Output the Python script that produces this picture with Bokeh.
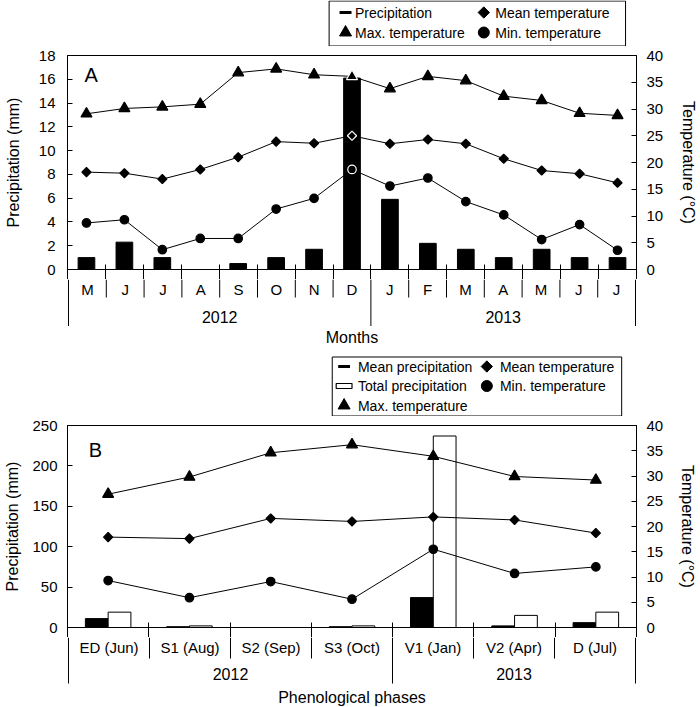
import numpy as np
from bokeh.plotting import figure
from bokeh.models import Range1d, LinearAxis, FixedTicker, Label, ColumnDataSource
from bokeh.layouts import column
from bokeh.embed import file_html
from bokeh.resources import INLINE
from bokeh.core.properties import value, field

FONT = "Liberation Sans"
W = 700

# ---------------- Panel A data (monthly) ----------------
a_months = ["M", "J", "J", "A", "S", "O", "N", "D", "J", "F", "M", "A", "M", "J", "J"]
a_years = ["2012"] * 8 + ["2013"] * 7
a_precip = [1.0, 2.3, 1.0, 0.0, 0.5, 1.0, 1.7, 16.1, 5.9, 2.2, 1.7, 1.0, 1.7, 1.0, 1.0]
a_tmax = [29.1, 30.1, 30.4, 30.9, 36.8, 37.5, 36.4, 36.1, 33.8, 36.1, 35.3, 32.4, 31.6, 29.2, 28.8]
a_tmean = [18.2, 18.0, 16.9, 18.7, 21.0, 23.9, 23.6, 25.0, 23.5, 24.3, 23.5, 20.7, 18.5, 17.9, 16.2]
a_tmin = [8.7, 9.3, 3.7, 5.8, 5.8, 11.3, 13.3, 18.7, 15.6, 17.1, 12.7, 10.2, 5.6, 8.4, 3.6]
a_left_ticks = [0, 2, 4, 6, 8, 10, 12, 14, 16, 18]

# ---------------- Panel B data (phenological phases) ----------------
b_phases = ["ED (Jun)", "S1 (Aug)", "S2 (Sep)", "S3 (Oct)", "V1 (Jan)", "V2 (Apr)", "D (Jul)"]
b_years = ["2012"] * 4 + ["2013"] * 3
b_mean_precip = [11, 1, 0, 1, 37, 2, 6]
b_total_precip = [19, 2, 0, 2, 237, 15, 19]
b_tmax = [26.4, 29.8, 34.6, 36.2, 33.9, 29.9, 29.2]
b_tmean = [17.9, 17.6, 21.6, 21.0, 21.9, 21.3, 18.7]
b_tmin = [9.3, 5.9, 9.1, 5.6, 15.5, 10.7, 12.0]
b_left_ticks = [0, 50, 100, 150, 200, 250]

temp_ticks = [0, 5, 10, 15, 20, 25, 30, 35, 40]

MBT = 9    # room for the top tick labels
MBB = 10   # room for the "0" tick labels; separators run through it


def style_axis(ax, ticks, label, label_standoff, axis_label_standoff):
    ax.ticker = FixedTicker(ticks=ticks)
    ax.major_tick_in = 5
    ax.major_tick_out = 0
    ax.minor_tick_line_color = None
    ax.major_tick_line_color = "black"
    ax.axis_line_color = "black"
    ax.major_label_text_font = FONT
    ax.major_label_text_font_size = "15px"
    ax.major_label_text_color = "black"
    ax.major_label_standoff = label_standoff
    ax.axis_label = label
    ax.axis_label_text_font = FONT
    ax.axis_label_text_font_size = "16px"
    ax.axis_label_text_font_style = "normal"
    ax.axis_label_text_color = "black"
    ax.axis_label_standoff = axis_label_standoff


def panel(n, y_max, left_ticks, height, mbl, mbr, left_std, left_lbl_std, right_lbl_std):
    p = figure(width=W, height=height, x_range=Range1d(0.5, n + 0.5), y_range=Range1d(0, y_max),
               output_backend="svg", toolbar_location=None, min_border_left=mbl,
               min_border_right=mbr, min_border_top=MBT, min_border_bottom=MBB)
    p.grid.visible = False
    p.outline_line_color = "black"
    p.outline_line_width = 1
    p.extra_y_ranges = {"temp": Range1d(0, 40)}

    # category separators: short marks poking above the baseline and down through the border
    xa = p.xaxis[0]
    xa.ticker = FixedTicker(ticks=[], minor_ticks=list(np.arange(0, n + 1) + 0.5))
    xa.axis_line_color = "black"
    xa.major_tick_line_color = None
    xa.minor_tick_line_color = "black"
    xa.minor_tick_in = 5
    xa.minor_tick_out = MBB
    xa.major_label_standoff = 0

    style_axis(p.yaxis[0], left_ticks, "Precipitation (mm)", left_std, left_lbl_std)
    ra = LinearAxis(y_range_name="temp")
    style_axis(ra, temp_ticks, "Temperature (°C)", 10, right_lbl_std)
    p.add_layout(ra, "right")
    return p


def table_fig(labels, years, height, mbl, mbr, inner_len, full_len, lab_y, year_y, title, title_y):
    """Category table continuing below a panel; y coordinates are screen pixels from its top."""
    n = len(labels)
    d = n / (W - mbl - mbr)          # one pixel in x units
    t = figure(width=W, height=height, x_range=Range1d(0.5 - d, n + 0.5 + d),
               y_range=Range1d(height, 0), output_backend="svg", toolbar_location=None,
               x_axis_location=None, y_axis_location=None, min_border_left=mbl - 1,
               min_border_right=mbr - 1, min_border_top=0, min_border_bottom=0)
    t.outline_line_color = None
    t.grid.visible = False
    x = np.arange(1, n + 1)
    change = [i for i in range(1, n) if years[i] != years[i - 1]]
    inner = [i + 0.5 for i in range(1, n) if i not in change]
    full = [0.5] + [i + 0.5 for i in change] + [n + 0.5]
    t.segment(x0=inner, y0=[0] * len(inner), x1=inner, y1=[inner_len] * len(inner),
              line_color="black", line_width=1)
    t.segment(x0=full, y0=[0] * len(full), x1=full, y1=[full_len] * len(full),
              line_color="black", line_width=1)
    t.text(x=x, y=[lab_y] * n, text=labels, text_align="center", text_baseline="middle",
           text_font=value(FONT), text_font_size="15px", text_color="black")
    uy = []
    for yv in years:
        if yv not in uy:
            uy.append(yv)
    yc = [float(np.mean([x[i] for i in range(n) if years[i] == yv])) for yv in uy]
    t.text(x=yc, y=[year_y] * len(uy), text=uy, text_align="center", text_baseline="middle",
           text_font=value(FONT), text_font_size="16px", text_color="black")
    t.text(x=[(n + 1) / 2], y=[title_y], text=[title], text_align="center",
           text_baseline="middle", text_font=value(FONT), text_font_size="16px",
           text_color="black")
    return t


def add_temps(p, x, tmax, tmean, tmin, edge):
    src = ColumnDataSource(dict(x=x, tmax=tmax, tmean=tmean, tmin=tmin, edge=edge))
    specs = [("tmax", "triangle", 11, 0.0), ("tmean", "square", 6.5, np.pi / 4),
             ("tmin", "circle", 8.5, 0.0)]
    for col, _, _, _ in specs:
        p.line("x", col, source=src, y_range_name="temp", line_color="black", line_width=1)
    for col, marker, size, ang in specs:
        p.scatter("x", col, source=src, y_range_name="temp", marker=marker, size=size, angle=ang,
                  fill_color="black", line_color=field("edge"), line_width=1.2)


def legend_fig(height, mbl, mbr, box, items):
    """Hand-drawn legend in a strip above a panel; coordinates are screen pixels."""
    frame_w = W - mbl - mbr
    lf = figure(width=W, height=height, x_range=Range1d(0, frame_w), y_range=Range1d(height, 0),
                output_backend="svg", toolbar_location=None, x_axis_location=None,
                y_axis_location=None, min_border_left=mbl, min_border_right=mbr,
                min_border_top=0, min_border_bottom=0)
    lf.grid.visible = False
    lf.outline_line_color = None
    l, r, t, b = box
    lf.quad(left=[l], right=[r], top=[t], bottom=[b], fill_color="white", line_color="black",
            line_width=1)
    for kind, gx, tx, y, text in items:
        if kind == "dash":
            lf.segment(x0=[gx - 6], y0=[y], x1=[gx + 6], y1=[y], line_color="black", line_width=3)
        elif kind == "box":
            lf.quad(left=[gx - 8], right=[gx + 8], top=[y - 2.5], bottom=[y + 2.5],
                    fill_color="white", line_color="black", line_width=1.2)
        elif kind == "tri":
            lf.scatter(x=[gx], y=[y], marker="triangle", size=12, fill_color="black",
                       line_color="black")
        elif kind == "dia":
            lf.scatter(x=[gx], y=[y], marker="square", angle=np.pi / 4, size=8,
                       fill_color="black", line_color="black")
        elif kind == "cir":
            lf.scatter(x=[gx], y=[y], marker="circle", size=11, fill_color="black",
                       line_color="black")
        lf.text(x=[tx], y=[y], text=[text], text_align="left", text_baseline="middle",
                text_font=value(FONT), text_font_size="14px", text_color="black")
    return lf


# ================= Panel A =================
nA = len(a_months)
xA = np.arange(1, nA + 1)
mblA, mbrA = 67, 61
pA = panel(nA, 18, a_left_ticks, height=233, mbl=mblA, mbr=mbrA, left_std=12,
           left_lbl_std=14, right_lbl_std=14)
pA.vbar(x=xA, top=a_precip, width=0.44, fill_color="black", line_color="black")
edgeA = ["white" if v == max(a_precip) else "black" for v in a_precip]
add_temps(pA, xA, a_tmax, a_tmean, a_tmin, edgeA)
pA.add_layout(Label(x=0.95, y=17.25, text="A", text_baseline="top", text_align="left",
                    text_font=FONT, text_font_size="20px", text_color="black"))
legA = legend_fig(46, mblA, mbrA, (263, 561, 0.5, 45.5), [
    ("dash", 279.5, 289, 12, "Precipitation"),
    ("dia", 418.5, 430, 12, "Mean temperature"),
    ("tri", 279.5, 289, 32, "Max. temperature"),
    ("cir", 418.5, 430, 32, "Min. temperature"),
])
tA = table_fig(a_months, a_years, 68, mblA, mbrA, inner_len=18, full_len=46.5, lab_y=9.5,
               year_y=37, title="Months", title_y=58)

# ================= Panel B =================
nB = len(b_phases)
xB = np.arange(1, nB + 1)
mblB, mbrB = 64, 60
pB = panel(nB, 250, b_left_ticks, height=221, mbl=mblB, mbr=mbrB, left_std=10,
           left_lbl_std=8, right_lbl_std=13)
pB.vbar(x=xB - 0.14, top=b_mean_precip, width=0.28, fill_color="black", line_color="black")
pB.vbar(x=xB + 0.14, top=b_total_precip, width=0.28, fill_color="white", line_color="black")
add_temps(pB, xB, b_tmax, b_tmean, b_tmin, ["black"] * nB)
pB.add_layout(Label(x=0.76, y=233, text="B", text_baseline="top", text_align="left",
                    text_font=FONT, text_font_size="20px", text_color="black"))
legB = legend_fig(69, mblB, mbrB, (268, 561, 9.5, 68.5), [
    ("dash", 280, 294, 19, "Mean precipitation"),
    ("dia", 424.5, 437.7, 19, "Mean temperature"),
    ("box", 280, 294, 38.5, "Total precipitation"),
    ("cir", 424.5, 437.7, 38.5, "Min. temperature"),
    ("tri", 280, 294, 58, "Max. temperature"),
])
tB = table_fig(b_phases, b_years, 69, mblB, mbrB, inner_len=21, full_len=46, lab_y=10,
               year_y=36, title="Phenological phases", title_y=60)

layout = column(legA, pA, tA, legB, pB, tB, spacing=0)
open("out.html", "w").write(file_html(layout, INLINE))
